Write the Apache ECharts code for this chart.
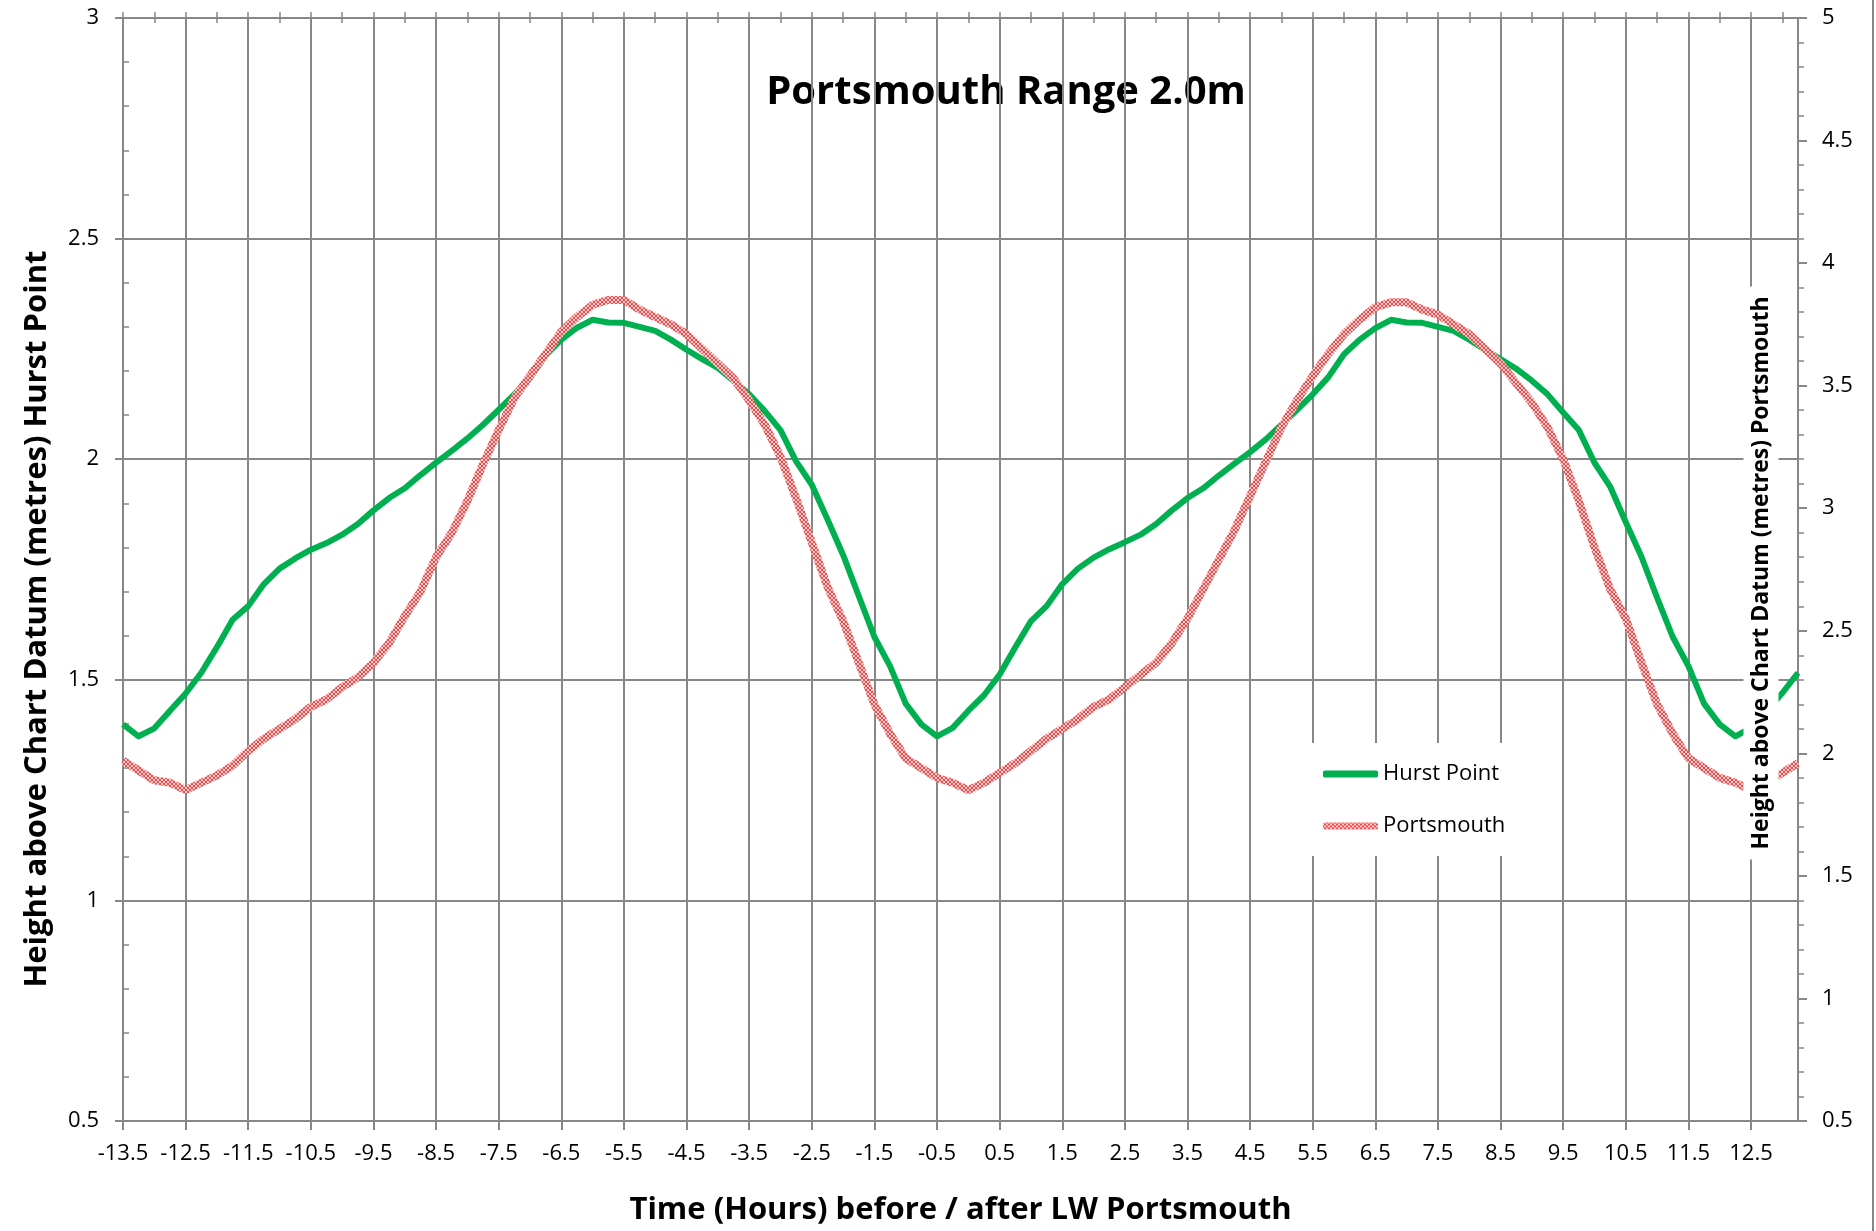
<!DOCTYPE html>
<html>
<head>
<meta charset="utf-8">
<title>Portsmouth Range 2.0m</title>
<script src="https://cdn.jsdelivr.net/npm/echarts@6/dist/echarts.min.js"></script>
<style>
  html, body { margin: 0; padding: 0; background: #fff; }
  #chart { width: 1876px; height: 1231px; }
</style>
</head>
<body>
<div id="chart"></div>
<script>
// time in hours relative to LW Portsmouth (15 min steps)
const hours = [-13.5, -13.25, -13, -12.75, -12.5, -12.25, -12, -11.75, -11.5, -11.25, -11, -10.75,
  -10.5, -10.25, -10, -9.75, -9.5, -9.25, -9, -8.75, -8.5, -8.25, -8, -7.75, -7.5, -7.25, -7, -6.75,
  -6.5, -6.25, -6, -5.75, -5.5, -5.25, -5, -4.75, -4.5, -4.25, -4, -3.75, -3.5, -3.25, -3, -2.75,
  -2.5, -2.25, -2, -1.75, -1.5, -1.25, -1, -0.75, -0.5, -0.25, 0, 0.25, 0.5, 0.75, 1, 1.25, 1.5, 1.75,
  2, 2.25, 2.5, 2.75, 3, 3.25, 3.5, 3.75, 4, 4.25, 4.5, 4.75, 5, 5.25, 5.5, 5.75, 6, 6.25, 6.5, 6.75,
  7, 7.25, 7.5, 7.75, 8, 8.25, 8.5, 8.75, 9, 9.25, 9.5, 9.75, 10, 10.25, 10.5, 10.75, 11, 11.25,
  11.5, 11.75, 12, 12.25, 12.5, 12.75, 13, 13.25];

// height above chart datum (m), left axis
const hurstPoint = [1.399, 1.372, 1.390, 1.430, 1.469, 1.516, 1.574, 1.636, 1.667, 1.717, 1.752, 1.775,
  1.795, 1.810, 1.829, 1.853, 1.884, 1.912, 1.934, 1.964, 1.992, 2.019, 2.047, 2.078, 2.112, 2.147,
  2.184, 2.236, 2.271, 2.298, 2.316, 2.310, 2.309, 2.300, 2.291, 2.271, 2.248, 2.227, 2.207, 2.178,
  2.147, 2.109, 2.066, 1.995, 1.942, 1.864, 1.783, 1.690, 1.597, 1.531, 1.446, 1.399, 1.372, 1.391,
  1.430, 1.465, 1.512, 1.574, 1.633, 1.667, 1.717, 1.752, 1.777, 1.796, 1.812, 1.829, 1.853, 1.884,
  1.912, 1.934, 1.963, 1.990, 2.016, 2.045, 2.078, 2.112, 2.147, 2.186, 2.238, 2.271, 2.297, 2.316,
  2.310, 2.309, 2.300, 2.291, 2.271, 2.248, 2.227, 2.205, 2.178, 2.147, 2.106, 2.066, 1.992, 1.938,
  1.857, 1.779, 1.686, 1.597, 1.531, 1.446, 1.399, 1.372, 1.391, 1.430, 1.470, 1.516];

// height above chart datum (m), right axis
const portsmouth = [1.97, 1.93, 1.89, 1.88, 1.85, 1.88, 1.91, 1.95, 2.01, 2.06, 2.10, 2.14,
  2.19, 2.22, 2.27, 2.31, 2.37, 2.45, 2.56, 2.66, 2.80, 2.90, 3.03, 3.18, 3.32, 3.45,
  3.54, 3.63, 3.72, 3.78, 3.83, 3.85, 3.85, 3.81, 3.78, 3.75, 3.71, 3.65, 3.59, 3.53,
  3.44, 3.34, 3.21, 3.04, 2.86, 2.68, 2.54, 2.37, 2.20, 2.08, 1.98, 1.94, 1.90, 1.88,
  1.85, 1.88, 1.92, 1.96, 2.01, 2.06, 2.10, 2.14, 2.19, 2.22, 2.27, 2.32, 2.37, 2.45,
  2.55, 2.67, 2.79, 2.91, 3.05, 3.19, 3.33, 3.44, 3.54, 3.63, 3.71, 3.77, 3.82, 3.84,
  3.84, 3.81, 3.79, 3.75, 3.71, 3.65, 3.59, 3.51, 3.43, 3.33, 3.20, 3.03, 2.84, 2.67,
  2.55, 2.37, 2.20, 2.08, 1.98, 1.94, 1.90, 1.88, 1.85, 1.88, 1.92, 1.96];

const FONT = '"Open Sans", "Noto Sans", sans-serif';
const GREY = '#878787';
const greyLine = { color: GREY, width: 2 };

// small red cross-hatch, like the Excel pattern line
function hatch() {
  const c = document.createElement('canvas');
  c.width = 4;
  c.height = 4;
  const ctx = c.getContext('2d');
  ctx.fillStyle = '#fcd0d0';
  ctx.fillRect(0, 0, 4, 4);
  ctx.fillStyle = '#f44848';
  for (let i = 0; i < 4; i++) {
    ctx.fillRect(i, i, 1, 1);
    ctx.fillRect(3 - i, i, 1, 1);
  }
  return c;
}
const redHatch = { image: hatch(), repeat: 'repeat' };

const chart = echarts.init(document.getElementById('chart'));

chart.setOption({
  animation: false,
  backgroundColor: '#fff',
  grid: { left: 123, right: 78, top: 18, bottom: 104 },
  legend: {
    orient: 'vertical',
    left: 1290,
    top: 743,
    padding: [20, 27, 19, 33],
    backgroundColor: '#fff',
    itemWidth: 55,
    itemHeight: 7,
    itemGap: 30,
    textStyle: { fontFamily: FONT, fontSize: 22, color: '#000' },
    data: [
      { name: 'Hurst Point', icon: 'roundRect' },
      { name: 'Portsmouth', icon: 'roundRect' }
    ]
  },
  xAxis: [
    {
      type: 'category',
      data: hours,
      boundaryGap: false,
      axisLine: { lineStyle: greyLine },
      axisTick: { interval: 3, length: 9, lineStyle: greyLine },
      axisLabel: { interval: 3, margin: 22, color: '#000', fontFamily: FONT, fontSize: 22 },
      splitLine: { show: true, interval: 3, lineStyle: greyLine },
      name: 'Time (Hours) before / after LW Portsmouth',
      nameLocation: 'middle',
      nameGap: 74,
      nameTextStyle: { fontFamily: FONT, fontSize: 31, fontWeight: 'bold', color: '#000' }
    },
    {
      // half hour ticks below the axis
      type: 'category',
      data: hours,
      boundaryGap: false,
      axisLine: { show: false },
      axisLabel: { show: false },
      axisTick: { interval: 1, length: 6, lineStyle: { color: GREY, width: 1.5 } }
    },
    {
      // and the part above it
      type: 'category',
      data: hours,
      boundaryGap: false,
      axisLine: { show: false },
      axisLabel: { show: false },
      axisTick: { interval: 1, inside: true, length: 5, lineStyle: { color: GREY, width: 1.5 } }
    }
  ],
  yAxis: [
    {
      type: 'value',
      position: 'left',
      min: 0.5,
      max: 3,
      interval: 0.5,
      axisLine: { show: true, lineStyle: greyLine },
      axisTick: { show: true, length: 8, lineStyle: greyLine },
      axisLabel: { margin: 24, color: '#000', fontFamily: FONT, fontSize: 22 },
      splitLine: { show: true, lineStyle: greyLine }
    },
    {
      type: 'value',
      position: 'right',
      min: 0.5,
      max: 5,
      interval: 0.5,
      axisLine: { show: true, lineStyle: greyLine },
      axisTick: { show: true, length: 9, lineStyle: greyLine },
      minorTick: { show: true, splitNumber: 5, length: 6, lineStyle: { color: GREY, width: 1.5 } },
      axisLabel: { margin: 24, color: '#000', fontFamily: FONT, fontSize: 22 },
      splitLine: { show: false }
    },
    {
      // 0.1 m ticks inside the left axis
      type: 'value',
      position: 'left',
      min: 0.5,
      max: 3,
      interval: 0.5,
      axisLine: { show: false },
      axisTick: { show: false, inside: true },
      minorTick: { show: true, splitNumber: 5, length: 6, lineStyle: { color: GREY, width: 1.5 } },
      axisLabel: { show: false },
      splitLine: { show: false }
    }
  ],
  series: [
    {
      name: 'Hurst Point',
      type: 'line',
      data: hurstPoint,
      yAxisIndex: 0,
      symbol: 'none',
      itemStyle: { color: '#00b050' },
      lineStyle: { color: '#00b050', width: 6, join: 'round' }
    },
    {
      name: 'Portsmouth',
      type: 'line',
      data: portsmouth,
      yAxisIndex: 1,
      symbol: 'none',
      itemStyle: { color: redHatch },
      lineStyle: { color: redHatch, width: 8, join: 'round' }
    }
  ],
  graphic: [
    {
      type: 'text',
      x: 1006,
      y: 93,
      style: {
        text: 'Portsmouth Range 2.0m',
        font: 'bold 40px ' + FONT,
        fill: '#000',
        align: 'center',
        verticalAlign: 'middle',
        textAlign: 'center',
        textVerticalAlign: 'middle'
      }
    },
    {
      type: 'text',
      x: 37,
      y: 619,
      rotation: Math.PI / 2,
      style: {
        text: 'Height above Chart Datum (metres) Hurst Point',
        font: 'bold 31px ' + FONT,
        fill: '#000',
        align: 'center',
        verticalAlign: 'middle',
        textAlign: 'center',
        textVerticalAlign: 'middle'
      }
    },
    {
      type: 'text',
      x: 1761,
      y: 573,
      z: 100,
      rotation: Math.PI / 2,
      style: {
        text: 'Height above Chart Datum (metres) Portsmouth',
        font: 'bold 23px ' + FONT,
        fill: '#000',
        align: 'center',
        verticalAlign: 'middle',
        textAlign: 'center',
        textVerticalAlign: 'middle',
        backgroundColor: '#fff',
        padding: [6, 10]
      }
    },
    {
      type: 'line',
      shape: { x1: 1873, y1: 0, x2: 1873, y2: 1231 },
      style: { stroke: GREY, lineWidth: 2 }
    }
  ]
});
</script>
</body>
</html>
